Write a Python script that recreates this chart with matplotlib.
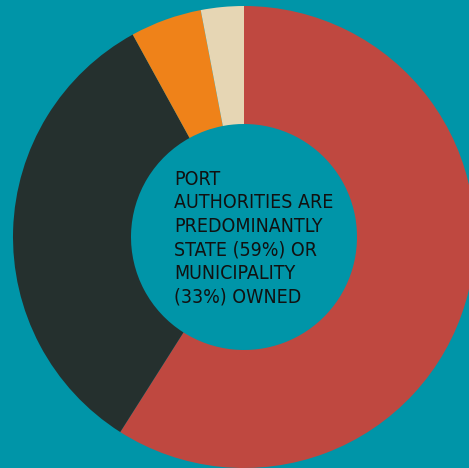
import matplotlib.pyplot as plt
from matplotlib import font_manager

categories = ['State', 'Municipality', 'Private', 'Other']
shares = [59, 33, 5, 3]
colors = ['#bf4840', '#25302e', '#ef8219', '#e6d6b4']
label = 'PORT\nAUTHORITIES ARE\nPREDOMINANTLY\nSTATE (59%) OR\nMUNICIPALITY\n(33%) OWNED'

bg = '#0095a8'

# look for a narrow face, the original uses a condensed sans
font = None
for f in font_manager.fontManager.ttflist:
    fn = f.fname.lower()
    if ('condensed' in fn or 'narrow' in fn) and 'bold' not in fn \
            and 'oblique' not in fn and 'italic' not in fn and 'light' not in fn:
        font = font_manager.FontProperties(fname=f.fname, size=14)
        break
if font is None:
    font = font_manager.FontProperties(family='DejaVu Sans', size=12)

fig = plt.figure(figsize=(4.69, 4.68), dpi=100, facecolor=bg)
ax = fig.add_axes([0, 0, 1, 1])
ax.set_facecolor(bg)
R = 231
ax.pie(shares, colors=colors, radius=R, startangle=90, counterclock=False,
       wedgeprops=dict(width=R - 113, linewidth=0))
ax.set_xlim(-244, 225)
ax.set_ylim(-231, 237)
ax.set_aspect('equal')
ax.axis('off')
ax.text(-70, 67, label, ha='left', va='top', fontproperties=font,
        color='#111111', linespacing=1.3)
fig.savefig('out.png', dpi=100, facecolor=bg)
